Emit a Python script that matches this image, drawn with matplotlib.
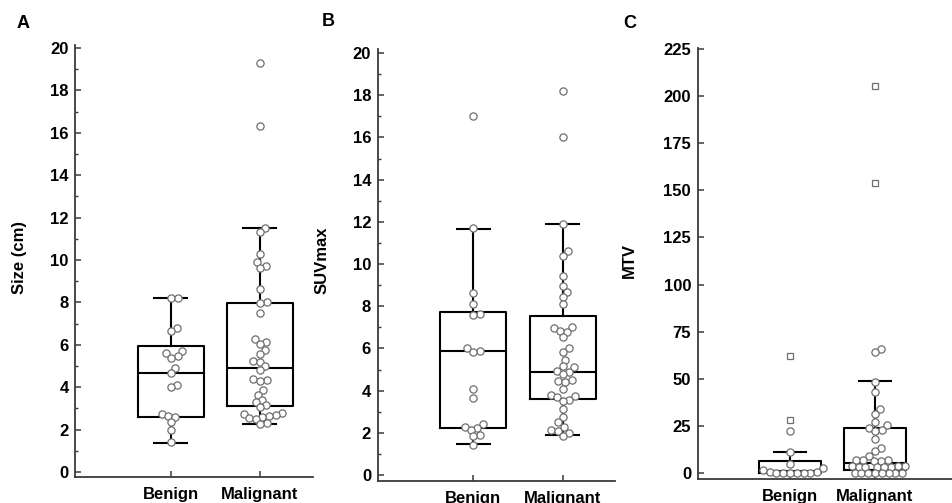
from matplotlib import pyplot as plt
from matplotlib.ticker import MultipleLocator
import numpy as np

plt.rcParams['font.family'] = ['Liberation Sans', 'DejaVu Sans']
plt.rcParams['font.weight'] = 'bold'

groups = ['Benign', 'Malignant']

# panel A - size (cm)
size_benign = [8.2, 8.2, 6.8, 6.65, 5.7, 5.6, 5.45, 5.4, 4.9, 4.65, 4.1, 4.0,
               2.75, 2.65, 2.6, 2.35, 2.0, 1.4]
size_malignant = [19.3, 16.3, 11.5, 11.3, 10.3, 9.9, 9.7, 9.6, 8.65, 8.0, 7.95,
                  7.5, 6.25, 6.15, 6.05, 5.75, 5.55, 5.25, 5.2, 5.0, 4.8, 4.4,
                  4.35, 4.3, 3.85, 3.65, 3.4, 3.3, 3.15, 3.05, 2.8, 2.75, 2.7,
                  2.65, 2.6, 2.55, 2.5, 2.3, 2.25]
size_box = {'q1': [2.61, 3.11], 'med': [4.66, 4.9], 'q3': [5.93, 7.95],
            'whislo': [1.39, 2.26], 'whishi': [8.19, 11.49]}

# panel B - SUVmax
suv_benign = [17.0, 11.7, 8.65, 8.1, 7.65, 7.6, 6.0, 5.9, 5.85, 4.1, 3.65,
              2.4, 2.3, 2.25, 2.15, 1.9, 1.85, 1.45]
suv_malignant = [18.2, 16.0, 11.9, 10.6, 10.4, 9.45, 8.95, 8.7, 8.45, 8.1, 7.0,
                 6.95, 6.85, 6.8, 6.55, 6.0, 5.85, 5.45, 5.15, 5.1, 4.95, 4.9,
                 4.8, 4.5, 4.45, 4.4, 4.1, 3.8, 3.75, 3.7, 3.55, 3.5, 3.15,
                 2.75, 2.5, 2.3, 2.15, 2.1, 2.0, 1.85]
suv_box = {'q1': [2.25, 3.6], 'med': [5.88, 4.9], 'q3': [7.72, 7.54],
           'whislo': [1.47, 1.9], 'whishi': [11.68, 11.89]}

# panel C - MTV (far-out values drawn as squares)
mtv_benign = [22.5, 11.0, 4.8, 3.0, 1.5, 0.8, 0.5, 0.3, 0.2, 0.1, 0.1, 0.0,
              0.0]
mtv_benign_far = [62.0, 28.0]
mtv_malignant = [66.0, 64.0, 48.5, 43.0, 34.0, 31.5, 27.0, 25.5, 24.0, 23.0,
                 22.5, 18.0, 13.5, 11.5, 9.0, 7.0, 6.9, 6.8, 6.7, 6.6, 3.7,
                 3.6, 3.6, 3.5, 3.5, 3.4, 3.4, 3.4, 0.3, 0.3, 0.2, 0.2, 0.1,
                 0.1, 0.0, 0.0]
mtv_malignant_far = [205.0, 154.0]
mtv_box = {'q1': [0.2, 1.8], 'med': [1.0, 5.4], 'q3': [6.5, 24.2],
           'whislo': [0.0, 0.0], 'whishi': [11.2, 48.7]}

SPINE = '#3a3a3a'
DOT = '#6e6e6e'
MS = 5.2


def swarm(ax, pos, vals):
    # horizontal offsets so circles barely overlap (done in pixel space)
    diam = 0.85 * (MS * ax.figure.dpi / 72.0 + 0.8)
    p0 = ax.transData.transform([(pos, 0)])[0]
    p1 = ax.transData.transform([(pos + 1, 0)])[0]
    px_per_unit = p1[0] - p0[0]
    ys = ax.transData.transform([(pos, v) for v in vals])[:, 1]
    order = np.argsort(ys)
    placed = []
    xs = np.zeros(len(vals))
    for i in order:
        y = ys[i]
        cands = [0.0]
        for (qx, qy) in placed:
            dy = abs(y - qy)
            if dy < diam:
                dx = np.sqrt(diam ** 2 - dy ** 2)
                cands += [qx + dx, qx - dx]
        cands.sort(key=abs)
        for c in cands:
            if all((c - qx) ** 2 + (y - qy) ** 2 >= diam ** 2 - 1e-6 for qx, qy in placed):
                break
        placed.append((c, y))
        xs[i] = pos + c / px_per_unit
    return xs


def panel(fig, rect, ylabel, box, data, far, ylim, xlim, major, minor, label_x, label_y):
    ax = fig.add_axes(rect)
    stats = []
    for k in range(2):
        stats.append({'q1': box['q1'][k], 'med': box['med'][k], 'q3': box['q3'][k],
                      'whislo': box['whislo'][k], 'whishi': box['whishi'][k],
                      'fliers': []})
    line = {'color': 'black', 'linewidth': 1.5}
    ax.bxp(stats, positions=[1, 2], widths=0.74, showfliers=False,
           boxprops=line, whiskerprops=line, capprops=line, medianprops=line,
           capwidths=0.37)
    ax.set_xlim(*xlim)
    ax.set_ylim(*ylim)

    for k in range(2):
        xs = swarm(ax, k + 1, data[k])
        ax.plot(xs, data[k], 'o', ms=MS, mfc='white', mec=DOT, mew=0.9,
                zorder=5, clip_on=False)
        if far[k]:
            ax.plot([k + 1] * len(far[k]), far[k], 's', ms=MS - 0.4, mfc='white',
                    mec=DOT, mew=0.9, zorder=5)

    for s in ['top', 'right']:
        ax.spines[s].set_visible(False)
    for s in ['left', 'bottom']:
        ax.spines[s].set_color(SPINE)
        ax.spines[s].set_linewidth(1.3)

    ax.set_xticks([1, 2])
    ax.set_xticklabels(groups, fontsize=12, fontweight='bold')
    ax.yaxis.set_major_locator(MultipleLocator(major))
    if minor:
        ax.yaxis.set_minor_locator(MultipleLocator(minor))
    ax.tick_params(axis='both', which='major', direction='in', length=4,
                   width=1.1, color=SPINE, labelsize=12)
    ax.tick_params(axis='x', pad=7)
    ax.tick_params(axis='y', pad=5)
    ax.tick_params(axis='y', which='minor', direction='in', length=2.5,
                   width=1.0, color=SPINE)
    for t in ax.get_yticklabels():
        t.set_fontweight('bold')

    ax.text(label_x, label_y, ylabel, rotation=90, ha='center', va='center',
            fontsize=12, fontweight='bold', transform=ax.transAxes)
    return ax


def main():
    fig = plt.figure(figsize=(9.53, 5.03), dpi=100)

    panel(fig, [0.0792, 0.0517, 0.2492, 0.8588], 'Size (cm)', size_box,
          [size_benign, size_malignant], [[], []], (-0.236, 20.14),
          (-0.073, 2.596), 2, 1, -0.235, 0.509)
    panel(fig, [0.3966, 0.0437, 0.2487, 0.8588], 'SUVmax', suv_box,
          [suv_benign, suv_malignant], [[], []], (-0.28, 20.19),
          (-0.067, 2.587), 2, 1, -0.235, 0.51)
    panel(fig, [0.7324, 0.0477, 0.2676, 0.8569], 'MTV', mtv_box,
          [mtv_benign, mtv_malignant], [mtv_benign_far, mtv_malignant_far],
          (-3.1, 225.4), (-0.082, 2.918), 25, None, -0.27, 0.506)

    for letter, x, y in [('A', 23, 23), ('B', 328, 22), ('C', 630, 23)]:
        fig.text(x / 953, 1 - y / 503, letter, ha='center', va='center',
                 fontsize=13, fontweight='bold')

    fig.savefig('out.png', dpi=100)


main()
